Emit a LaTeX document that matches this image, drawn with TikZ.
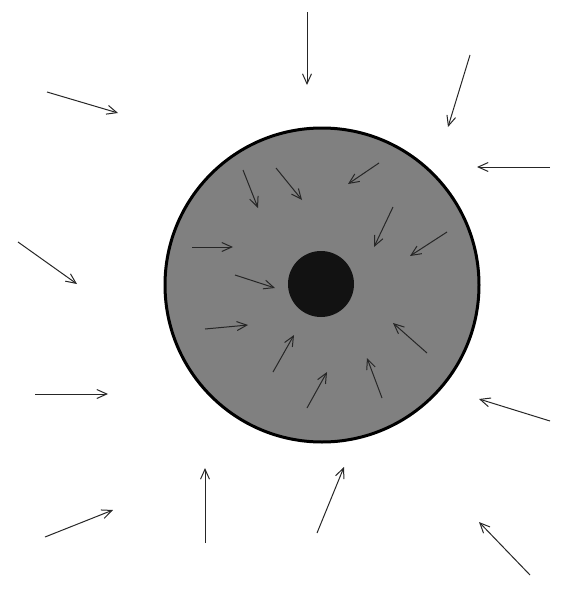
\documentclass[tikz,border=0pt]{standalone}
\usetikzlibrary{arrows.meta}
\definecolor{disc_gray}{RGB}{128, 128, 128}
\definecolor{core_black}{RGB}{18, 18, 18}
\tikzstyle{disc}=[circle,fill=disc_gray,draw=black,
  line width=1.5pt,inner sep=0pt,minimum size=157pt]
\tikzstyle{core}=[circle,fill=core_black,draw=none,
  inner sep=0pt,minimum size=33pt]
\tikzstyle{flow}=[-{Straight Barb[length=5pt,width=4.5pt]},
  line width=0.5pt,draw=black!85]

\begin{document}
\begin{tikzpicture}[x=0.5pt, y=-0.5pt]
            \useasboundingbox (0, 0) rectangle (570, 589);
            \node [style=disc] (disc) at (322, 285) {};
            \node [style=core] (core) at (321, 284) {};
            % outside
            \foreach \n/\tx/\ty/\hx/\hy in {o1/307/12/307/85, o2/470/55/448/127,
                o3/550/167/477/167, o4/47/92/118/113, o5/18/242/77/284,
                o6/35/394/108/394, o7/45/537/113/510, o8/205/543/205/468,
                o9/317/533/344/467, o10/530/575/479/522, o11/550/421/479/399} {
                \coordinate (\n t) at (\tx, \ty);
                \coordinate (\n h) at (\hx, \hy);
                \draw [style=flow] (\n t) to (\n h);
            }
            % inside
            \foreach \n/\tx/\ty/\hx/\hy in {i1/243/170/258/208, i2/276/168/302/200,
                i3/192/247/233/247, i4/235/275/275/288, i5/205/329/248/325,
                i6/273/372/294/335, i7/379/163/348/184, i8/393/207/374/247,
                i9/447/232/410/256, i10/427/353/393/323, i11/382/398/367/358,
                i12/307/408/327/372} {
                \coordinate (\n t) at (\tx, \ty);
                \coordinate (\n h) at (\hx, \hy);
                \draw [style=flow] (\n t) to (\n h);
            }
    \end{tikzpicture}
\end{document}
